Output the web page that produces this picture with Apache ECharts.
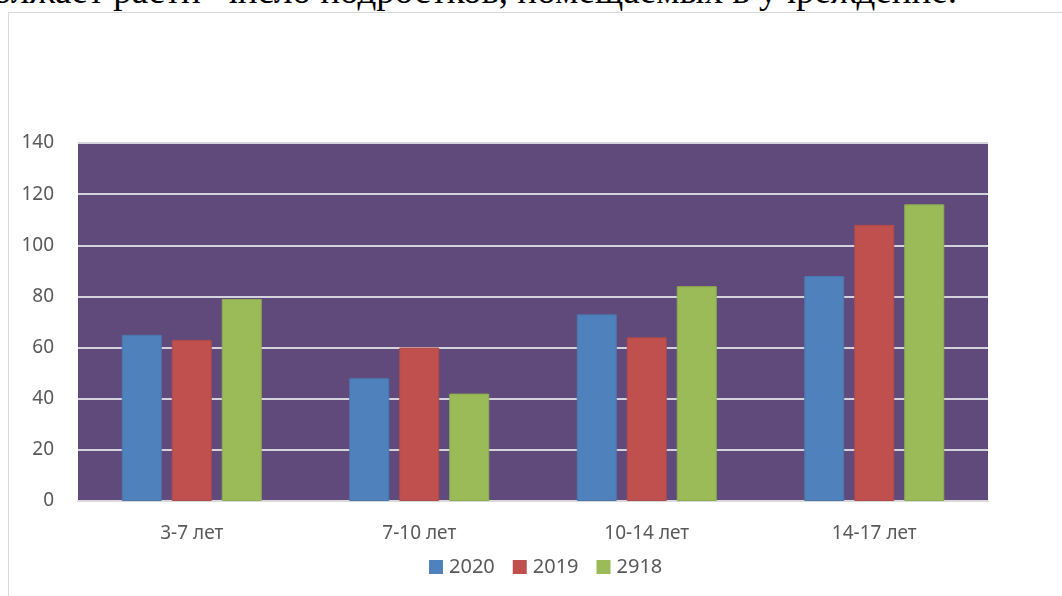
<!DOCTYPE html>
<html>
<head>
<meta charset="utf-8">
<script src="https://cdn.jsdelivr.net/npm/echarts@6/dist/echarts.min.js"></script>
<style>
  html, body { margin: 0; padding: 0; width: 1062px; height: 596px; overflow: hidden; background: #fff; }
  #txt { position: absolute; right: 105px; top: -28px; font-family: "Liberation Serif", serif; font-size: 37px;
         line-height: 37px; white-space: nowrap; color: #000; }
  #frame { position: absolute; left: 8px; top: 12px; width: 1100px; height: 640px; border: 1px solid #d9d9d9; box-sizing: border-box; }
  #chart { position: absolute; left: 0; top: 0; width: 1062px; height: 596px; }
</style>
</head>
<body>
<div id="txt">продолжает расти&nbsp; число подростков, помещаемых в учреждение.</div>
<div id="frame"></div>
<div id="chart"></div>
<script>
var categories = ['3-7 лет', '7-10 лет', '10-14 лет', '14-17 лет'];
var years = ['2020', '2019', '2918'];
var data2020 = [65, 48, 73, 88];
var data2019 = [63, 60, 64, 108];
var data2918 = [79, 42, 84, 116];
var colors = ['#4F81BD', '#C0504D', '#9BBB59'];
var borders = ['#4a77ad', '#b04a47', '#8fac52'];

var textColor = '#595959';
var font = '"Noto Sans", sans-serif';

var myChart = echarts.init(document.getElementById('chart'));

function bar(name, data, idx) {
  return {
    name: name,
    type: 'bar',
    barWidth: 40,
    barGap: '25%',
    data: data,
    itemStyle: { color: colors[idx], borderColor: borders[idx], borderWidth: 1 },
    animation: false
  };
}

var option = {
  animation: false,
  color: colors,
  grid: {
    left: 78, right: 74, top: 143, bottom: 95,
    show: true, backgroundColor: '#604A7B', borderWidth: 0
  },
  legend: {
    top: 552,
    left: 424,
    itemWidth: 14,
    itemHeight: 14,
    itemGap: 18,
    icon: 'rect',
    itemStyle: { borderWidth: 0 },
    textStyle: { color: textColor, fontSize: 20, fontFamily: font, padding: [0, 0, 0, 1] },
    data: years
  },
  xAxis: {
    type: 'category',
    data: categories,
    axisLine: { show: true, lineStyle: { color: '#d9d9d9', width: 2 } },
    axisTick: { show: false },
    axisLabel: { color: textColor, fontSize: 19, fontFamily: font, margin: 23 }
  },
  yAxis: {
    type: 'value',
    min: 0, max: 140, interval: 20,
    axisLine: { show: false },
    axisTick: { show: false },
    axisLabel: { color: textColor, fontSize: 19, fontFamily: font, margin: 24 },
    splitLine: { lineStyle: { color: '#d4d2dc', width: 2 } }
  },
  series: [
    bar(years[0], data2020, 0),
    bar(years[1], data2019, 1),
    bar(years[2], data2918, 2)
  ]
};
myChart.setOption(option);
window.addEventListener('resize', function () { myChart.resize(); });
</script>
</body>
</html>
